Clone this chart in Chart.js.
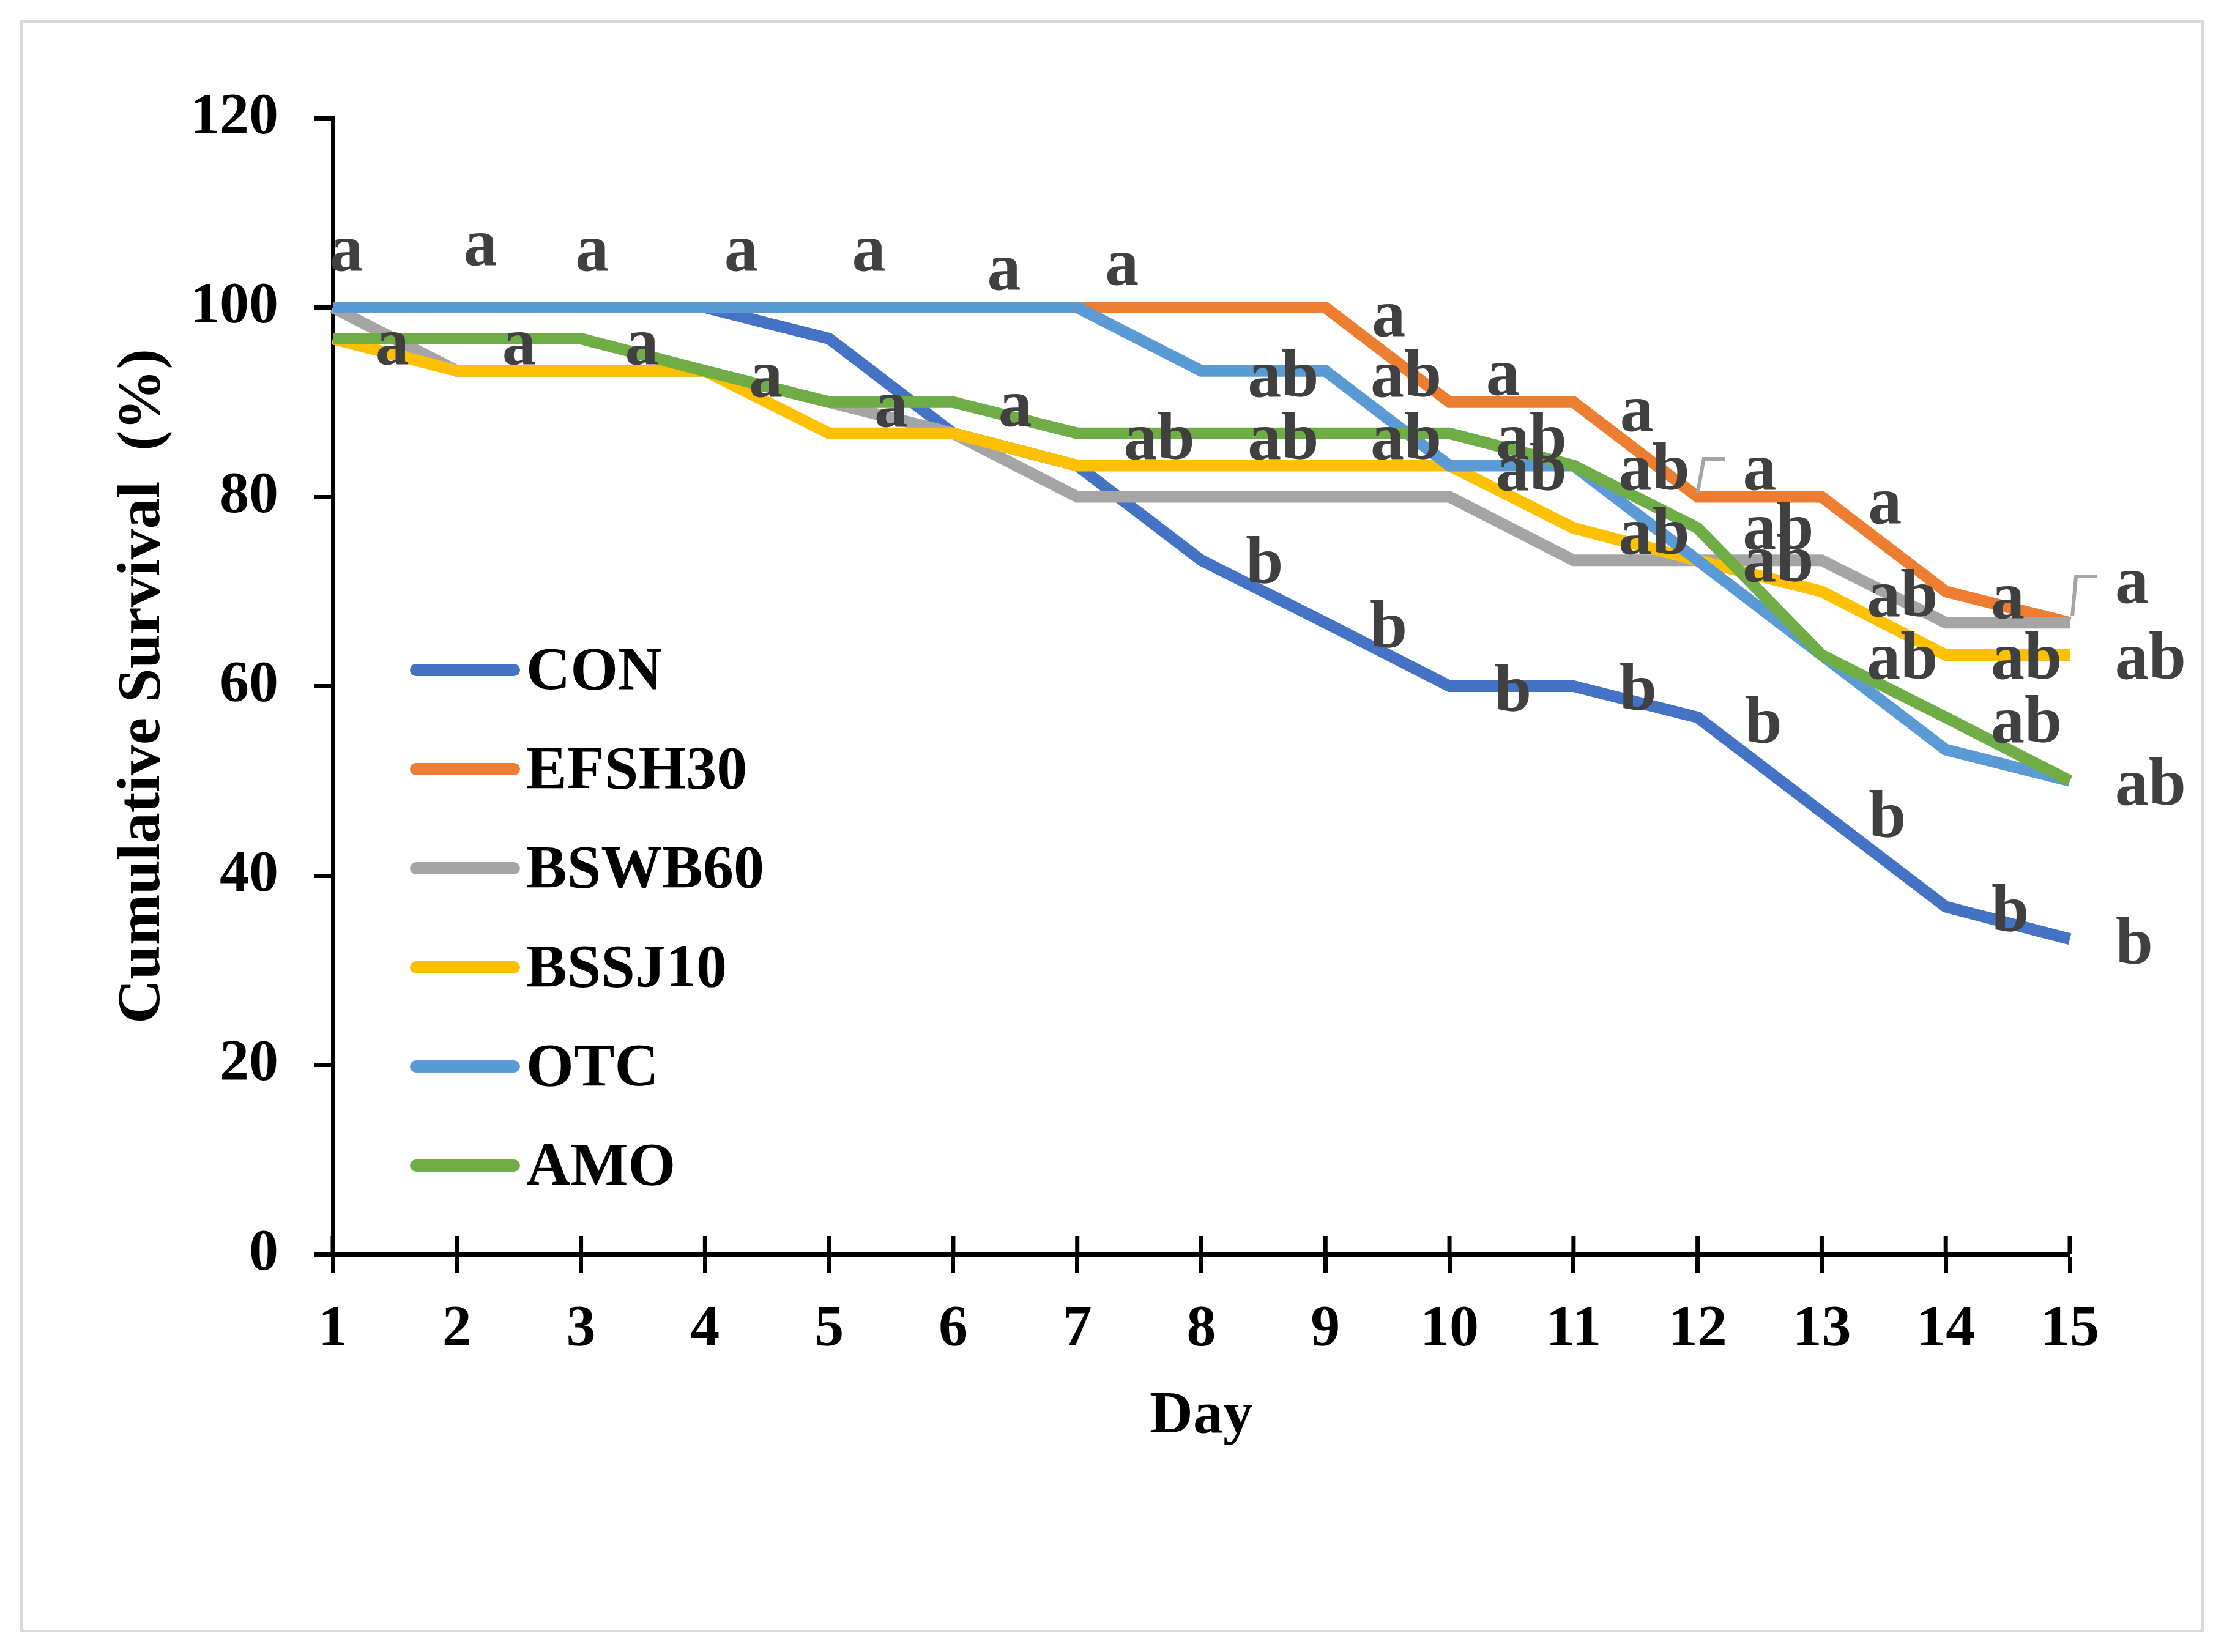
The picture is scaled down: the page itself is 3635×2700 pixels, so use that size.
<!DOCTYPE html>
<html>
<head>
<meta charset="utf-8">
<script src="https://cdn.jsdelivr.net/npm/chart.js@4.4.1/dist/chart.umd.min.js"></script>
<style>
  html, body { margin: 0; padding: 0; background: #fff; }
  #wrap { width: 3635px; height: 2700px; }
</style>
</head>
<body>
<div id="wrap"><canvas id="survivalChart" width="3635" height="2700"></canvas></div>
<script>
// Days after challenge
const days = [1, 2, 3, 4, 5, 6, 7, 8, 9, 10, 11, 12, 13, 14, 15];

// Cumulative survival (%) per group
const conValues    = [100, 100, 100, 100, 96.7, 86.7, 83.3, 73.3, 66.7, 60, 60, 56.7, 46.7, 36.7, 33.3];
const efsh30Values = [100, 100, 100, 100, 100, 100, 100, 100, 100, 90, 90, 80, 80, 70, 66.7];
const bswb60Values = [100, 93.3, 93.3, 93.3, 90, 86.7, 80, 80, 80, 80, 73.3, 73.3, 73.3, 66.7, 66.7];
const bssj10Values = [96.7, 93.3, 93.3, 93.3, 86.7, 86.7, 83.3, 83.3, 83.3, 83.3, 76.7, 73.3, 70, 63.3, 63.3];
const otcValues    = [100, 100, 100, 100, 100, 100, 100, 93.3, 93.3, 83.3, 83.3, 73.3, 63.3, 53.3, 50];
const amoValues    = [96.7, 96.7, 96.7, 93.3, 90, 90, 86.7, 86.7, 86.7, 86.7, 83.3, 76.7, 63.3, 56.7, 50];

const yTicks = [0, 20, 40, 60, 80, 100, 120];

// Significance letters (text, day, survival value at the text baseline)
const sigText = ['a', 'a', 'a', 'a', 'a', 'a', 'a',
                 'a', 'a', 'a', 'a', 'a', 'a',
                 'ab', 'ab', 'ab', 'ab', 'ab', 'ab', 'a', 'a', 'ab',
                 'a', 'ab', 'ab', 'a', 'ab', 'ab', 'a', 'ab', 'a', 'a',
                 'ab', 'ab', 'ab', 'ab', 'ab',
                 'b', 'b', 'b', 'b', 'b', 'b', 'b', 'b'];
const sigDay  = [1.11, 2.19, 3.09, 4.29, 5.32, 6.41, 7.36,
                 1.48, 2.50, 3.49, 4.49, 5.50, 6.50,
                 7.66, 8.66, 9.65, 10.66, 8.66, 9.65, 9.51, 10.43, 10.66,
                 11.51, 11.65, 11.65, 12.50, 12.65, 12.65, 13.51, 13.65, 14.50, 15.50,
                 13.65, 14.65, 15.65, 14.65, 15.65,
                 8.51, 9.51, 10.51, 11.52, 12.53, 13.53, 14.52, 15.52];
const sigBase = [103.9, 104.5, 103.9, 103.9, 103.9, 101.9, 102.4,
                 94.0, 94.0, 94.0, 90.6, 87.4, 87.5,
                 84.0, 84.0, 84.0, 84.0, 90.6, 90.6, 97.0, 90.8, 80.7,
                 87.0, 80.8, 74.0, 80.8, 74.5, 71.1, 77.2, 67.4, 67.2, 68.8,
                 60.8, 60.8, 60.8, 54.1, 47.5,
                 70.9, 64.1, 57.4, 57.5, 54.0, 44.1, 34.1, 30.7];

// Leader lines from letters to their line ends (day, value)
const leaderLines = [
  [[12.0, 80.4], [12.05, 84.0], [12.22, 84.0]],
  [[15.02, 67.4], [15.05, 71.6], [15.22, 71.6]]
];

const serif = '"Liberation Serif", "Times New Roman", serif';

function points(values) {
  return days.map((d, i) => ({ x: d, y: values[i] }));
}

const overlayPlugin = {
  id: 'overlay',
  beforeDraw(chart) {
    const ctx = chart.ctx;
    ctx.save();
    ctx.fillStyle = '#ffffff';
    ctx.fillRect(0, 0, chart.width, chart.height);
    ctx.strokeStyle = '#d9d9d9';
    ctx.lineWidth = 4;
    ctx.strokeRect(35, 35, 3565, 2631);
    ctx.restore();
  },
  afterDatasetsDraw(chart) {
    const { ctx, scales: { x, y } } = chart;
    ctx.save();
    ctx.strokeStyle = '#a5a5a5';
    ctx.lineWidth = 6;
    leaderLines.forEach(pts => {
      ctx.beginPath();
      pts.forEach(([d, v], i) => {
        const px = x.getPixelForValue(d), py = y.getPixelForValue(v);
        if (i === 0) ctx.moveTo(px, py); else ctx.lineTo(px, py);
      });
      ctx.stroke();
    });
    ctx.fillStyle = '#404040';
    ctx.font = 'bold 110px ' + serif;
    ctx.textAlign = 'center';
    ctx.textBaseline = 'alphabetic';
    sigText.forEach((t, i) => {
      ctx.fillText(t, x.getPixelForValue(sigDay[i]), y.getPixelForValue(sigBase[i]));
    });
    ctx.restore();
  },
  afterDraw(chart) {
    const { ctx, scales: { x } } = chart;
    const area = chart.chartArea;
    ctx.save();
    // tick marks crossing into the plot
    ctx.strokeStyle = '#000';
    ctx.lineWidth = 7;
    x.ticks.forEach(t => {
      const px = x.getPixelForValue(t.value);
      ctx.beginPath();
      ctx.moveTo(px, area.bottom - 30);
      ctx.lineTo(px, area.bottom);
      ctx.stroke();
    });
    // legend inside the plot
    ctx.font = 'bold 100px ' + serif;
    ctx.textAlign = 'left';
    ctx.textBaseline = 'alphabetic';
    ctx.lineCap = 'round';
    chart.data.datasets.forEach((ds, i) => {
      const ly = 1095 + i * 162;
      ctx.strokeStyle = ds.borderColor;
      ctx.lineWidth = 20;
      ctx.beginPath();
      ctx.moveTo(680, ly);
      ctx.lineTo(840, ly);
      ctx.stroke();
      ctx.fillStyle = '#000';
      ctx.fillText(ds.label, 860, ly + 31);
    });
    ctx.restore();
  }
};

const seriesStyle = {
  borderWidth: 19,
  pointRadius: 0,
  pointHoverRadius: 0,
  tension: 0,
  fill: false,
  borderJoinStyle: 'miter',
  clip: false
};

const ctxSurvival = document.getElementById('survivalChart').getContext('2d');
const survivalChart = new Chart(ctxSurvival, {
  type: 'line',
  data: {
    datasets: [
      { label: 'CON',    data: points(conValues),    borderColor: '#4472C4', order: 6, ...seriesStyle },
      { label: 'EFSH30', data: points(efsh30Values), borderColor: '#ED7D31', order: 5, ...seriesStyle },
      { label: 'BSWB60', data: points(bswb60Values), borderColor: '#A5A5A5', order: 4, ...seriesStyle },
      { label: 'BSSJ10', data: points(bssj10Values), borderColor: '#FFC000', order: 3, ...seriesStyle },
      { label: 'OTC',    data: points(otcValues),    borderColor: '#5B9BD5', order: 2, ...seriesStyle },
      { label: 'AMO',    data: points(amoValues),    borderColor: '#70AD47', order: 1, ...seriesStyle }
    ]
  },
  options: {
    responsive: false,
    animation: false,
    devicePixelRatio: 1,
    layout: { padding: { left: 174, top: 193, right: 252, bottom: 0 } },
    plugins: {
      legend: { display: false },
      tooltip: { enabled: false }
    },
    scales: {
      x: {
        type: 'linear',
        min: 1,
        max: 15,
        afterFit: s => { s.height = 650; },
        afterBuildTicks: s => { s.ticks = days.map(v => ({ value: v })); },
        grid: { drawOnChartArea: false, drawTicks: true, tickLength: 31, tickWidth: 7, tickColor: '#000' },
        border: { display: true, color: '#000', width: 7 },
        ticks: {
          padding: 36,
          color: '#000',
          maxRotation: 0,
          autoSkip: false,
          font: { family: serif, size: 96, weight: 'bold' }
        },
        title: {
          display: true,
          text: 'Day',
          color: '#000',
          padding: { top: 0, bottom: 326 },
          font: { family: serif, size: 98, weight: 'bold' }
        }
      },
      y: {
        min: 0,
        max: 120,
        afterFit: s => { s.width = 370; },
        afterBuildTicks: s => { s.ticks = yTicks.map(v => ({ value: v })); },
        grid: { drawOnChartArea: false, drawTicks: true, tickLength: 30, tickWidth: 7, tickColor: '#000' },
        border: { display: true, color: '#000', width: 7 },
        ticks: {
          padding: 59,
          color: '#000',
          font: { family: serif, size: 96, weight: 'bold' }
        },
        title: {
          display: true,
          text: 'Cumulative Survival  (%)',
          color: '#000',
          padding: { top: 0, bottom: 0 },
          font: { family: serif, size: 100, weight: 'bold' }
        }
      }
    }
  },
  plugins: [overlayPlugin]
});
</script>
</body>
</html>
